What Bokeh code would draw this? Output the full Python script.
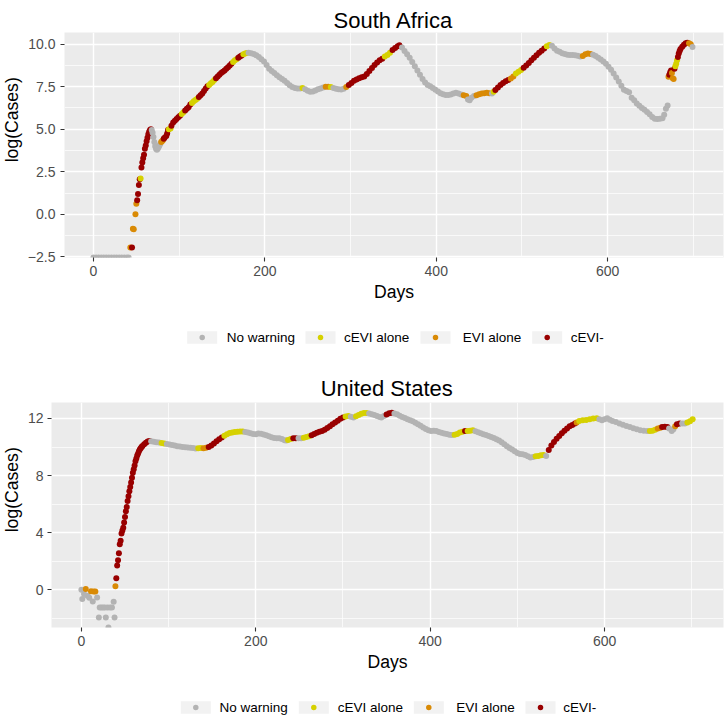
import math
from bokeh.plotting import figure
from bokeh.models import ColumnDataSource, Range1d, FixedTicker, CustomJSTickFormatter
from bokeh.layouts import column, row
from bokeh.embed import file_html
from bokeh.resources import INLINE
from bokeh.core.properties import value

NEG_INF = float("-inf")
FONT = "Liberation Sans"

# ---------------- data: South Africa ----------------
sa_day = [
    0, 3, 6, 9, 12, 15, 18, 21, 24, 27,
    30, 33, 36, 39, 41, 43, 45, 46, 47, 49,
    50, 51, 52, 53, 54, 55, 56, 57, 58, 59,
    60, 61, 62, 63, 64, 65, 66, 67, 68, 69,
    70, 71, 72, 73, 74, 75, 76, 77, 78, 79,
    80, 81, 82, 83, 85, 86, 87, 88, 90, 91,
    93, 95, 97, 99, 101, 103, 105, 107, 109, 111,
    113, 115, 117, 119, 121, 123, 125, 127, 129, 131,
    133, 135, 137, 139, 141, 143, 145, 147, 149, 151,
    153, 155, 157, 159, 161, 163, 165, 167, 169, 171,
    173, 175, 177, 179, 181, 184, 187, 190, 193, 196,
    199, 202, 205, 208, 211, 214, 217, 220, 223, 226,
    229, 232, 235, 238, 241, 244, 247, 250, 253, 256,
    259, 262, 265, 268, 271, 274, 277, 280, 283, 286,
    289, 292, 295, 298, 301, 304, 307, 310, 313, 316,
    319, 322, 325, 328, 331, 334, 337, 340, 343, 346,
    349, 352, 355, 357, 360, 363, 366, 369, 372, 375,
    378, 381, 384, 387, 390, 393, 396, 399, 402, 405,
    408, 411, 414, 417, 420, 423, 426, 429, 432, 435,
    437, 439, 441, 444, 447, 450, 453, 456, 459, 462,
    465, 467, 469, 472, 475, 478, 481, 484, 487, 490,
    493, 496, 499, 502, 505, 508, 511, 514, 517, 520,
    523, 526, 529, 532, 535, 538, 541, 544, 547, 550,
    553, 556, 559, 562, 565, 568, 571, 574, 577, 580,
    583, 586, 589, 592, 595, 598, 601, 604, 607, 610,
    613, 616, 619, 622, 625, 628, 631, 634, 637, 640,
    643, 646, 649, 652, 655, 658, 661, 664, 666, 668,
    670, 671, 672, 673, 674, 675, 676, 677, 678, 679,
    680, 681, 682, 683, 684, 685, 687, 689, 691, 693,
    695, 697, 699,
]
sa_logcases = [
    NEG_INF, NEG_INF, NEG_INF, NEG_INF, NEG_INF, NEG_INF, NEG_INF, NEG_INF, NEG_INF, NEG_INF,
    NEG_INF, NEG_INF, NEG_INF, NEG_INF, NEG_INF, -1.95, -1.95, -0.85, -0.87, 0.0,
    0.63, 0.83, 1.19, 1.72, 2.07, 2.1, 2.75, 3.05, 3.3, 3.5,
    3.85, 4.05, 4.3, 4.5, 4.7, 4.85, 4.95, 5.0, 4.95, 4.8,
    4.55, 4.25, 4.0, 3.85, 3.8, 3.85, 3.95, 4.05, 4.15, 4.25,
    4.3, 4.35, 4.45, 4.5, 4.6, 4.75, 4.95, 5.0, 5.05, 5.2,
    5.4, 5.5, 5.6, 5.7, 5.8, 5.9, 6.0, 6.1, 6.2, 6.3,
    6.45, 6.55, 6.65, 6.72, 6.8, 6.9, 7.0, 7.1, 7.25, 7.4,
    7.52, 7.6, 7.7, 7.78, 7.9, 8.0, 8.1, 8.2, 8.3, 8.38,
    8.45, 8.55, 8.65, 8.75, 8.85, 8.95, 9.05, 9.12, 9.2, 9.27,
    9.33, 9.4, 9.45, 9.48, 9.5, 9.47, 9.42, 9.35, 9.25, 9.12,
    8.98, 8.78, 8.55, 8.42, 8.3, 8.17, 8.05, 7.95, 7.85, 7.72,
    7.58, 7.48, 7.43, 7.4, 7.4, 7.42, 7.35, 7.27, 7.2, 7.22,
    7.28, 7.35, 7.4, 7.45, 7.5, 7.5, 7.48, 7.42, 7.38, 7.35,
    7.33, 7.38, 7.48, 7.6, 7.72, 7.85, 7.93, 8.0, 8.05, 8.1,
    8.25, 8.43, 8.6, 8.78, 8.92, 9.05, 9.15, 9.27, 9.37, 9.5,
    9.65, 9.78, 9.88, 9.93, 9.8, 9.6, 9.4, 9.2, 8.95, 8.7,
    8.45, 8.2, 7.95, 7.75, 7.6, 7.52, 7.42, 7.32, 7.22, 7.12,
    7.06, 7.02, 7.02, 7.04, 7.1, 7.14, 7.1, 7.04, 7.0, 6.95,
    6.75, 6.7, 6.85, 6.95, 7.0, 7.05, 7.1, 7.12, 7.15, 7.12,
    7.1, 7.2, 7.3, 7.45, 7.6, 7.72, 7.82, 7.9, 7.98, 8.1,
    8.28, 8.38, 8.48, 8.62, 8.75, 8.9, 9.05, 9.2, 9.35, 9.5,
    9.62, 9.75, 9.87, 9.95, 9.9, 9.75, 9.62, 9.55, 9.47, 9.42,
    9.38, 9.37, 9.36, 9.35, 9.32, 9.27, 9.3, 9.4, 9.45, 9.42,
    9.38, 9.31, 9.2, 9.1, 8.98, 8.85, 8.68, 8.5, 8.28, 8.04,
    7.8, 7.55, 7.32, 7.25, 7.18, 6.85, 6.7, 6.52, 6.38, 6.25,
    6.15, 6.02, 5.88, 5.72, 5.62, 5.6, 5.62, 5.65, 5.85, 6.2,
    6.4, 8.08, 8.2, 8.35, 8.45, 8.3, 8.0, 7.95, 8.55, 8.7,
    8.85, 9.05, 9.25, 9.45, 9.6, 9.72, 9.85, 9.97, 10.05, 10.08,
    10.05, 10.0, 9.84,
]
# warning status: each run starts at a day and lasts until the next run
sa_run_start = [0, 43, 45, 46, 51, 55, 56, 68, 79, 82, 88, 91, 102, 107, 114, 122,
                135, 142, 163, 168, 174, 180, 243, 246, 270, 275, 279, 293, 298, 338,
                347, 359, 431, 436, 447, 463, 466, 468, 486, 491, 500, 527, 535, 571,
                582, 671, 672, 675, 678, 679, 682, 695, 699]
sa_run_code = ["N", "E", "B", "E", "B", "C", "B", "N", "E", "B", "C", "B", "C", "B", "C", "B",
               "C", "B", "C", "B", "C", "N", "C", "N", "E", "C", "N", "E", "B", "C",
               "B", "N", "E", "N", "E", "N", "C", "B", "E", "C", "B", "C", "N", "E",
               "N", "E", "B", "E", "B", "C", "B", "E", "N"]

# ---------------- data: United States ----------------
us_day = [
    0, 1, 3, 5, 7, 9, 11, 13, 14, 16,
    18, 20, 21, 23, 25, 27, 28, 30, 31, 33,
    35, 37, 38, 39, 40, 41, 42, 43, 44, 45,
    46, 47, 48, 49, 50, 51, 52, 53, 54, 55,
    56, 57, 58, 59, 60, 61, 62, 63, 64, 65,
    66, 67, 68, 69, 70, 72, 74, 76, 78, 80,
    83, 86, 89, 92, 95, 98, 101, 104, 107, 110,
    113, 116, 119, 122, 125, 128, 131, 134, 137, 140,
    143, 146, 149, 152, 155, 158, 161, 164, 167, 170,
    173, 176, 179, 182, 185, 188, 191, 194, 197, 200,
    203, 206, 209, 212, 215, 218, 221, 224, 227, 230,
    233, 235, 237, 240, 243, 246, 249, 252, 255, 258,
    261, 264, 267, 270, 273, 276, 279, 282, 285, 288,
    291, 294, 297, 300, 303, 306, 309, 312, 315, 318,
    321, 324, 327, 330, 333, 336, 339, 342, 344, 347,
    350, 353, 356, 359, 362, 365, 368, 371, 374, 377,
    380, 383, 386, 389, 392, 395, 398, 401, 404, 407,
    410, 413, 416, 419, 422, 425, 428, 431, 434, 437,
    440, 443, 446, 449, 452, 455, 458, 461, 464, 467,
    470, 473, 476, 479, 482, 485, 488, 491, 494, 497,
    500, 503, 506, 509, 512, 515, 518, 521, 524, 527,
    530, 533, 536, 539, 542, 545, 548, 551, 554, 557,
    560, 563, 566, 568, 571, 575, 579, 583, 587, 591,
    594, 597, 600, 603, 606, 609, 613, 617, 621, 625,
    629, 633, 637, 641, 645, 649, 652, 655, 658, 661,
    664, 666, 669, 672, 674, 677, 679, 681, 683, 686,
    689, 692, 695, 698, 701,
]
us_logcases = [
    0.0, -0.65, -0.3, 0.05, -0.42, -0.55, -0.1, -0.82, -0.12, -0.12,
    -0.54, -1.94, -1.24, -1.24, -1.24, -1.24, -1.94, -1.24, NEG_INF, -1.24,
    -1.24, -0.84, -1.94, 0.25, 0.82, 1.7, 2.08, 2.57, 3.2, 3.43,
    3.94, 4.15, 4.35, 4.72, 5.1, 5.5, 5.8, 6.23, 6.55, 6.9,
    7.2, 7.52, 7.85, 8.2, 8.45, 8.7, 9.0, 9.2, 9.4, 9.55,
    9.7, 9.82, 9.92, 10.0, 10.08, 10.2, 10.3, 10.38, 10.42, 10.4,
    10.37, 10.34, 10.31, 10.28, 10.25, 10.22, 10.18, 10.14, 10.1, 10.06,
    10.03, 10.01, 9.99, 9.97, 9.95, 9.93, 9.9, 9.91, 9.93, 9.92,
    9.95, 10.0, 10.1, 10.25, 10.4, 10.55, 10.67, 10.8, 10.9, 10.98,
    11.02, 11.06, 11.08, 11.09, 11.09, 11.06, 11.02, 10.97, 10.92, 10.9,
    10.95, 10.93, 10.88, 10.82, 10.75, 10.68, 10.64, 10.62, 10.62, 10.57,
    10.48, 10.45, 10.5, 10.57, 10.62, 10.62, 10.62, 10.62, 10.65, 10.7,
    10.75, 10.82, 10.92, 11.0, 11.08, 11.13, 11.22, 11.33, 11.45, 11.6,
    11.72, 11.85, 11.98, 12.07, 12.14, 12.18, 12.12, 12.07, 12.15, 12.25,
    12.33, 12.38, 12.38, 12.35, 12.3, 12.25, 12.18, 12.1, 12.07, 12.18,
    12.28, 12.36, 12.4, 12.35, 12.3, 12.2, 12.1, 12.03, 11.95, 11.88,
    11.8, 11.7, 11.6, 11.5, 11.37, 11.27, 11.17, 11.13, 11.15, 11.13,
    11.06, 11.0, 10.95, 10.92, 10.87, 10.85, 10.86, 10.92, 11.02, 11.08,
    11.12, 11.13, 11.15, 11.18, 11.1, 11.03, 10.96, 10.9, 10.85, 10.78,
    10.71, 10.64, 10.55, 10.45, 10.33, 10.2, 10.06, 9.93, 9.82, 9.7,
    9.58, 9.52, 9.5, 9.45, 9.35, 9.27, 9.3, 9.35, 9.38, 9.42,
    9.45, 9.38, 9.8, 10.1, 10.35, 10.58, 10.78, 10.97, 11.15, 11.3,
    11.45, 11.55, 11.65, 11.72, 11.83, 11.87, 11.9, 11.95, 12.0, 12.02,
    11.95, 11.88, 11.95, 12.02, 11.92, 11.83, 11.75, 11.65, 11.57, 11.48,
    11.4, 11.32, 11.24, 11.18, 11.14, 11.13, 11.13, 11.15, 11.22, 11.3,
    11.35, 11.4, 11.42, 11.41, 11.3, 11.13, 11.25, 11.45, 11.6, 11.65,
    11.65, 11.65, 11.72, 11.8, 11.95,
]
us_run_start = [0, 5, 6, 11, 12, 14, 17, 39, 40, 80, 91, 96, 134, 140, 146, 164, 188,
                236, 243, 248, 254, 263, 301, 308, 314, 328, 349, 358, 427, 439, 442,
                451, 520, 532, 535, 567, 570, 593, 651, 660, 665, 673, 680, 682, 688, 694]
us_run_code = ["N", "E", "N", "E", "N", "E", "N", "E", "B", "N", "C", "N", "C", "E", "B", "C", "N",
               "C", "B", "N", "C", "B", "C", "N", "C", "N", "B", "N", "C", "B", "C",
               "N", "C", "N", "B", "E", "C", "N", "C", "E", "B", "N", "E", "B", "N", "C"]

status_codes = ["N", "C", "E", "B"]
status_labels = ["No warning", "cEVI alone", "EVI alone", "cEVI-"]
status_colors = ["#B3B3B3", "#D6D100", "#D98A05", "#990000"]

x_ticks = [0, 200, 400, 600]
x_minor = [100, 300, 500, 700]
sa_y_ticks = [-2.5, 0, 2.5, 5, 7.5, 10]
sa_y_minor = [-1.25, 1.25, 3.75, 6.25, 8.75]
us_y_ticks = [0, 4, 8, 12]
us_y_minor = [-2, 2, 6, 10]

COLOR_OF = dict(zip(status_codes, status_colors))


def codes_for(days, starts, codes):
    out = []
    for d in days:
        c = codes[0]
        for s, k in zip(starts, codes):
            if d >= s:
                c = k
        out.append(c)
    return out


def blank_fig(w, h):
    p = figure(width=w, height=h, x_range=Range1d(0, w), y_range=Range1d(0, h),
               x_axis_type=None, y_axis_type=None, min_border=0,
               toolbar_location=None, output_backend="svg",
               outline_line_color=None, background_fill_color="white",
               border_fill_color="white")
    p.grid.grid_line_color = None
    return p


def title_fig(h, text, xc, yb):
    p = blank_fig(724, h)
    p.text(x=[xc], y=[yb], text=[text], text_align="center", text_baseline="alphabetic",
           text_font=value(FONT), text_font_size="22px", text_color="black")
    return p


def ylab_fig(w, h, xc, yc):
    p = blank_fig(w, h)
    p.text(x=[xc], y=[yc], text=["log(Cases)"], angle=math.pi / 2,
           text_align="center", text_baseline="middle",
           text_font=value(FONT), text_font_size="17.6px", text_color="black")
    return p


def legend_fig(h, yc, key_x, label_x):
    p = blank_fig(724, h)
    p.rect(x=key_x, y=[yc] * 4, width=30, height=12.7, fill_color="#F2F2F2", line_color=None)
    p.scatter(x=key_x, y=[yc] * 4, size=5.5, fill_color=status_colors, line_color=None)
    p.text(x=label_x, y=[yc] * 4, text=status_labels, text_align="left", text_baseline="middle",
           text_font=value(FONT), text_font_size="13.5px", text_color="black")
    return p


def panel_fig(days, vals, starts, codes, xr, yr, yt, ym, width, left, standoff, fmt=None):
    p = figure(width=width, height=290, output_backend="svg", toolbar_location=None,
               x_range=Range1d(*xr), y_range=Range1d(*yr),
               min_border_left=left, min_border_right=1, min_border_top=0, min_border_bottom=65,
               background_fill_color="#EBEBEB", border_fill_color="white",
               outline_line_color=None)
    st = codes_for(days, starts, codes)
    y_plot = [yr[0] if v == NEG_INF else v for v in vals]
    src = ColumnDataSource(dict(day=days, logcases=y_plot, color=[COLOR_OF[c] for c in st]))
    p.scatter(x="day", y="logcases", source=src, size=6, fill_color="color", line_color=None)

    p.xgrid.ticker = FixedTicker(ticks=x_ticks, minor_ticks=x_minor)
    p.ygrid.ticker = FixedTicker(ticks=yt, minor_ticks=ym)
    for g in (p.xgrid[0], p.ygrid[0]):
        g.grid_line_color = "white"
        g.grid_line_width = 1.4
        g.minor_grid_line_color = "white"
        g.minor_grid_line_width = 0.7

    p.xaxis.ticker = FixedTicker(ticks=x_ticks)
    p.yaxis.ticker = FixedTicker(ticks=yt)
    if fmt is not None:
        p.yaxis.formatter = fmt
    for ax in (p.xaxis[0], p.yaxis[0]):
        ax.axis_line_color = None
        ax.major_tick_line_color = "#333333"
        ax.major_tick_line_width = 1.1
        ax.major_tick_out = 4
        ax.major_tick_in = 0
        ax.minor_tick_out = 0
        ax.minor_tick_in = 0
        ax.major_label_text_font = FONT
        ax.major_label_text_font_size = "14px"
        ax.major_label_text_color = "#4D4D4D"
    p.yaxis.major_label_standoff = standoff
    p.xaxis.major_label_standoff = 4
    p.xaxis.axis_label = "Days"
    p.xaxis.axis_label_text_font = FONT
    p.xaxis.axis_label_text_font_size = "17.6px"
    p.xaxis.axis_label_text_font_style = "normal"
    p.xaxis.axis_label_text_color = "black"
    p.xaxis.axis_label_standoff = 3
    return p


sa_fmt = CustomJSTickFormatter(code="return tick < 0 ? '\\u2212' + (-tick).toFixed(1) : tick.toFixed(1);")

# top block: 32 (title) + 290 (panel) + 30 (legend)
title1 = title_fig(32, "South Africa", 393, 12.1)
ylab1 = ylab_fig(24, 290, 11, 290 - 112.5)
panel1 = panel_fig(sa_day, sa_logcases, sa_run_start, sa_run_code,
                   (-33.8, 735.2), (-2.534, 10.685), sa_y_ticks, sa_y_minor,
                   700, 39, 5, sa_fmt)
legend1 = legend_fig(30, 15, [201.7, 320, 435, 546.7], [226.3, 343.5, 462.3, 570.2])

# bottom block: 50 (title) + 290 (panel) + 24 (legend)
title2 = title_fig(50, "United States", 386.2, 13.7)
ylab2 = ylab_fig(24, 290, 11, 290 - 112.5)
panel2 = panel_fig(us_day, us_logcases, us_run_start, us_run_code,
                   (-34.3, 736.4), (-2.638, 13.12), us_y_ticks, us_y_minor,
                   700, 25, 4)
legend2 = legend_fig(24, 9, [195.3, 313.3, 428.3, 540], [219, 337.2, 455.7, 562.8])

layout = column(title1, row(ylab1, panel1), legend1, title2, row(ylab2, panel2), legend2)

open("out.html", "w").write(file_html(layout, INLINE))
